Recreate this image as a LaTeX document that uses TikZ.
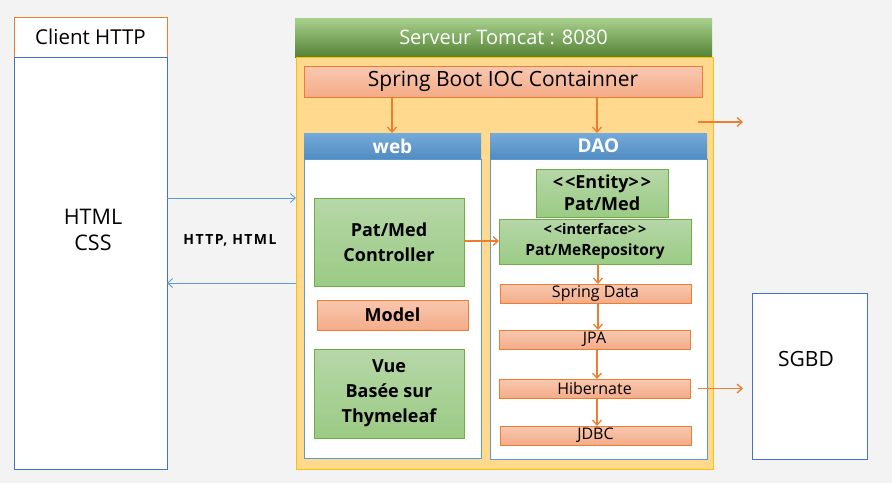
\documentclass[tikz,border=0pt]{standalone}
\usepackage{fontspec}
\setmainfont{Open Sans}
\usepackage{tikz}
\usetikzlibrary{positioning,arrows.meta}

\definecolor{bgray}{HTML}{F3F3F3}
\definecolor{borange}{HTML}{ED7D31}
\definecolor{bblue}{HTML}{4472C4}
\definecolor{lblue}{HTML}{5B9BD5}
\definecolor{bgreen}{HTML}{70AD47}
\definecolor{greentop}{HTML}{B6D7A8}
\definecolor{greenbot}{HTML}{9BCB84}
\definecolor{salmontop}{HTML}{F8C8B0}
\definecolor{salmonbot}{HTML}{F4AC88}
\definecolor{headtop}{HTML}{A9D18E}
\definecolor{headbot}{HTML}{548235}
\definecolor{tomcatfill}{HTML}{FFD98E}
\definecolor{tomcatline}{HTML}{FFC000}

\begin{document}
\begin{tikzpicture}[x=1pt, y=-1pt, >={Straight Barb[length=5pt,width=9pt]}, inner sep=0pt, outer sep=0pt]
    % Styles
    \tikzstyle{plain}=[rectangle, draw=bblue, fill=white, anchor=north west, align=center]
    \tikzstyle{greenbox}=[rectangle, draw=bgreen, top color=greentop, bottom color=greenbot, anchor=north west, align=center, font=\fontsize{18}{25}\selectfont\bfseries]
    \tikzstyle{salmon}=[rectangle, draw=borange, top color=salmontop, bottom color=salmonbot, anchor=north west, align=center, font=\fontsize{16}{18}\selectfont]
    \tikzstyle{header}=[rectangle, top color=lblue!85!white, bottom color=lblue!90!black, text=white, anchor=north west, font=\fontsize{19}{22}\selectfont\bfseries]
    \tikzstyle{orangearrow}=[->, draw=borange, line width=1.3pt]
    \tikzstyle{bluearrow}=[->, draw=lblue, line width=0.9pt]

    % Background
    \useasboundingbox (0,0) rectangle (892,483);
    \fill[bgray] (0,0) rectangle (892,483);

    % Client
    \node (clienthead) [plain, draw=borange, minimum width=153pt, minimum height=40pt, font=\fontsize{20.5}{24}\selectfont] at (14,17) {Client HTTP};
    \node (client) [plain, minimum width=153pt, minimum height=412pt] at (14,57) {};
    \node [font=\fontsize{21.5}{26}\selectfont, align=center] at (93,230) {HTML\\CSS};

    % Tomcat
    \node (tomcathead) [rectangle, anchor=north west, minimum width=417pt, minimum height=39pt, top color=headtop, bottom color=headbot, text=white, font=\fontsize{20}{24}\selectfont] at (295,18) {Serveur Tomcat : 8080};
    \node (tomcat) [rectangle, anchor=north west, draw=tomcatline, fill=tomcatfill, minimum width=417pt, minimum height=412pt] at (296,57) {};
    \node (ioc) [salmon, minimum width=398pt, minimum height=31pt, font=\fontsize{21}{24}\selectfont] at (304,66) {Spring Boot IOC Containner};

    % Web layer
    \node (webhead) [header, minimum width=177pt, minimum height=26pt] at (304,133) {web};
    \node (web) [plain, draw=lblue, minimum width=177pt, minimum height=299pt] at (304,159) {};
    \node (ctrl) [greenbox, minimum width=150pt, minimum height=88pt] at (314,198) {Pat/Med\\Controller};
    \node (model) [salmon, minimum width=151pt, minimum height=30pt, font=\fontsize{18}{21}\selectfont\bfseries] at (317,300) {Model};
    \node (vue) [greenbox, minimum width=150pt, minimum height=89pt] at (314,349) {Vue\\Basée sur\\Thymeleaf};

    % DAO layer
    \node (daohead) [header, minimum width=217pt, minimum height=26pt] at (490,133) {DAO};
    \node (dao) [plain, draw=lblue, minimum width=217pt, minimum height=300pt] at (490,159) {};
    \node (entity) [greenbox, minimum width=132pt, minimum height=48pt, font=\fontsize{18}{22}\selectfont\bfseries] at (536,169) {<\kern2pt<Entity>\kern2pt>\\Pat/Med};
    \node (repo) [greenbox, minimum width=192pt, minimum height=45pt, font=\fontsize{15.5}{21}\selectfont\bfseries] at (499,219) {{\fontsize{14.5}{17}\selectfont<\kern2pt<interface>\kern2pt>}\\Pat/MeRepository};
    \node (sdata) [salmon, minimum width=191pt, minimum height=19pt] at (500,284) {Spring Data};
    \node (jpa) [salmon, minimum width=191pt, minimum height=19pt] at (499,330) {JPA};
    \node (hib) [salmon, minimum width=191pt, minimum height=19pt] at (499,379) {Hibernate};
    \node (jdbc) [salmon, minimum width=191pt, minimum height=19pt] at (500,426) {JDBC};

    % SGBD
    \node (sgbd) [plain, minimum width=115pt, minimum height=166pt] at (752,293) {};
    \node [font=\fontsize{21}{24}\selectfont] at (806,359) {SGBD};

    % HTTP exchange
    \draw[bluearrow] (client.east |- 0,198) -- (tomcat.west |- 0,198);
    \draw[bluearrow] (tomcat.west |- 0,283) -- (client.east |- 0,283);
    \node (http) [font=\fontsize{14}{16}\selectfont\bfseries\addfontfeature{LetterSpace=10}] at (230,240) {HTTP, HTML};

    % Arrows
    \draw[orangearrow] (ioc.south -| 392,0) -- (webhead.north -| 392,0);
    \draw[orangearrow] (ioc.south -| 597,0) -- (daohead.north -| 597,0);
    \coordinate (outa) at (698,122);
    \coordinate (outb) at (743,122);
    \draw[orangearrow] (outa) -- (outb);
    \draw[orangearrow] (ctrl.east |- 0,241) -- (repo.west |- 0,241);
    \draw[orangearrow] (repo.south -| 598,0) -- (sdata.north -| 598,0);
    \draw[orangearrow] (sdata.south -| 598,0) -- (jpa.north -| 598,0);
    \draw[orangearrow] (jpa.south -| 597,0) -- (hib.north -| 597,0);
    \draw[orangearrow] (hib.south -| 597,0) -- (jdbc.north -| 597,0);
    \draw[orangearrow, shorten <=8pt, shorten >=9pt] (hib.east) -- (sgbd.west |- hib.east);

\end{tikzpicture}
\end{document}
